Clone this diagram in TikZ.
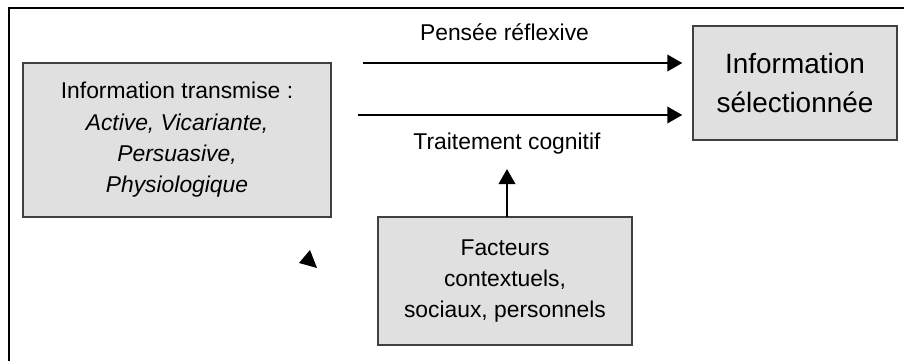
\documentclass[tikz,border=0pt]{standalone}
\usepackage{fontspec}
\setmainfont{Liberation Sans}
\usetikzlibrary{arrows.meta}
\definecolor{boxgray}{RGB}{224,224,224}
\begin{document}
\begin{tikzpicture}[x=0.02cm,y=-0.02cm]
\tikzset{
box/.style={rectangle,draw=black!75,line width=0.9pt,fill=boxgray,align=center,inner sep=0pt},
edge/.style={->,>={Triangle[length=8.5pt,width=9.5pt]},line width=0.85pt},
lbl/.style={anchor=base,inner sep=0pt},
font={\fontsize{13pt}{17.8pt}\selectfont}
}
\useasboundingbox (0,0) rectangle (904,361);
\draw[line width=1.15pt] (9,361) |- (904,8);

\node[box,minimum width=6.16cm,minimum height=3.08cm] (info) at (177,140)
 {Information transmise :\\ \textit{Active, Vicariante,}\\ \textit{Persuasive,}\\ \textit{Physiologique}};
\node[box,minimum width=4.08cm,minimum height=2.28cm,font={\fontsize{15.9pt}{22.7pt}\selectfont}] (sel) at (795,83)
 {Information\\ sélectionnée};
\node[box,minimum width=5.08cm,minimum height=2.56cm] (fac) at (505,281)
 {Facteurs\\ contextuels,\\ sociaux, personnels};

\node[lbl] (pr) at (504.5,40.7) {Pensée réflexive};
\node[lbl] (tc) at (507,150) {Traitement cognitif};

\coordinate (r1) at (363,63);
\coordinate (r2) at (358,115);
\coordinate (up) at (507,217);

\path[edge]
 (r1) edge[shorten >=0.2cm] (r1 -| sel.west)
 (r2) edge[shorten >=0.2cm] (r2 -| sel.west)
 (up) edge[shorten >=0.28cm] (up |- tc.south)
;

\fill (310,250) -- (299,263) -- (317,268) -- cycle;
\end{tikzpicture}
\end{document}
